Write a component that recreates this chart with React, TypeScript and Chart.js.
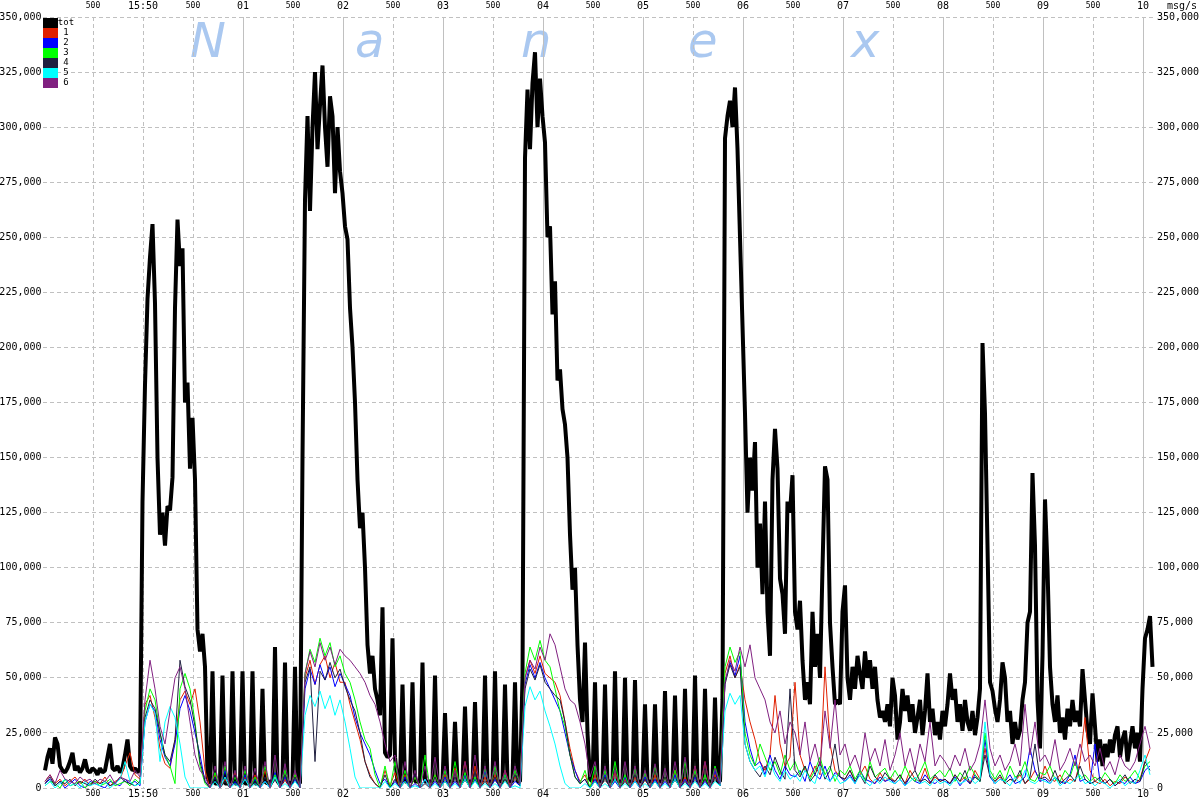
import React, { useEffect, useRef } from "react";
import { Chart, registerables } from "chart.js";

Chart.register(...registerables);

// ---------------- data ----------------
const X_LABELS = ["500", "15:50", "500", "01", "500", "02", "500", "03", "500", "04", "500",
  "05", "500", "06", "500", "07", "500", "08", "500", "09", "500", "10"];
const X_MIN = 0;
const X_MAX = 22.24;
const TIME_START = 0.04;
const TOT_STEP = 0.05;
const SUB_STEP = 0.1;
const Y_MAX = 350000;
const Y_STEP = 25000;
const UNIT = 1000; // values below are in thousands of msg/s
const SERIES_NAMES = ["tot", "1", "2", "3", "4", "5", "6"];
const SERIES_COLORS = ["#000000", "#e02000", "#0000ff", "#00ff00", "#202040", "#00ffff", "#802080"];
const WATERMARK = ["N", "a", "n", "e", "x"];

const TOT_K = [
  8, 14, 18, 11, 23, 20, 10, 8, 7, 9,
  12, 16, 8, 10, 7, 9, 13, 8, 7, 9,
  8, 6, 9, 7, 8, 14, 20, 9, 8, 10,
  7, 9, 15, 22, 10, 8, 9, 7, 9, 130,
  183, 222, 241, 256, 220, 150, 115, 125, 110, 128,
  126, 141, 218, 258, 237, 245, 175, 184, 145, 168,
  140, 72, 62, 70, 55, 5, 2, 53, 2, 2,
  3, 51, 2, 2, 3, 53, 2, 2, 3, 53,
  2, 2, 3, 53, 2, 2, 3, 45, 3, 2,
  3, 3, 64, 3, 2, 3, 57, 3, 2, 3,
  55, 3, 2, 150, 267, 305, 262, 300, 325, 290,
  310, 328, 300, 282, 314, 305, 270, 300, 280, 270,
  255, 249, 218, 200, 175, 140, 118, 125, 100, 65,
  52, 60, 45, 40, 33, 82, 16, 14, 15, 68,
  14, 3, 3, 47, 3, 3, 3, 48, 3, 3,
  3, 57, 3, 3, 3, 3, 51, 3, 3, 3,
  34, 3, 3, 3, 30, 3, 3, 3, 37, 3,
  3, 3, 39, 3, 3, 3, 51, 3, 3, 3,
  53, 3, 3, 3, 47, 3, 3, 3, 48, 3,
  3, 50, 286, 317, 290, 320, 334, 300, 322, 305,
  293, 250, 255, 215, 230, 185, 190, 172, 165, 150,
  115, 90, 100, 65, 40, 30, 66, 25, 4, 3,
  48, 3, 3, 3, 47, 3, 3, 3, 53, 3,
  3, 3, 50, 3, 3, 3, 49, 3, 3, 3,
  38, 3, 3, 3, 38, 3, 3, 3, 44, 3,
  3, 3, 42, 3, 3, 3, 45, 3, 3, 3,
  51, 3, 3, 3, 45, 3, 3, 3, 41, 3,
  3, 40, 295, 305, 312, 300, 318, 290, 250, 210,
  170, 125, 150, 135, 157, 100, 120, 88, 130, 80,
  60, 140, 163, 145, 95, 88, 70, 130, 125, 142,
  80, 72, 85, 58, 40, 48, 38, 80, 55, 70,
  50, 100, 146, 140, 75, 55, 38, 40, 38, 80,
  92, 50, 40, 55, 45, 60, 52, 45, 62, 50,
  58, 45, 55, 40, 32, 35, 30, 38, 28, 50,
  42, 22, 30, 45, 35, 42, 30, 38, 25, 32,
  40, 24, 35, 52, 30, 36, 24, 30, 22, 35,
  28, 38, 52, 40, 45, 30, 38, 26, 40, 30,
  26, 35, 24, 32, 45, 202, 170, 110, 48, 44,
  36, 30, 40, 57, 50, 30, 35, 20, 30, 22,
  26, 40, 48, 75, 80, 143, 110, 40, 18, 60,
  131, 100, 55, 38, 30, 42, 25, 32, 22, 36,
  28, 40, 30, 35, 28, 54, 40, 26, 20, 43,
  28, 12, 22, 10, 20, 14, 22, 16, 24, 28,
  14, 22, 26, 12, 20, 28, 18, 25, 12, 45,
  68, 72, 78, 55,
];

const S1_K = [
  3, 6, 2, 4, 1, 3, 5, 2, 4, 1,
  3, 2, 5, 1, 3, 4, 10, 16, 6, 4,
  38, 42, 32, 18, 11, 9, 22, 40, 44, 38,
  45, 30, 8, 0, 6, 0, 4, 0, 7, 0,
  5, 0, 6, 0, 8, 0, 5, 0, 4, 0,
  6, 1, 50, 58, 47, 56, 60, 50, 57, 48,
  48, 38, 30, 22, 12, 6, 2, 0, 8, 1,
  7, 0, 6, 0, 5, 0, 4, 0, 6, 0,
  6, 0, 9, 0, 12, 0, 10, 0, 5, 0,
  6, 0, 8, 1, 5, 2, 50, 58, 52, 60,
  52, 50, 48, 42, 30, 18, 8, 3, 6, 0,
  6, 0, 5, 0, 7, 0, 4, 0, 5, 0,
  4, 0, 6, 0, 5, 0, 8, 0, 5, 0,
  10, 0, 12, 0, 6, 1, 52, 60, 50, 56,
  40, 30, 22, 12, 8, 15, 42, 20, 10, 14,
  48, 15, 8, 5, 10, 6, 55, 20, 8, 5,
  4, 8, 3, 6, 10, 4, 2, 7, 3, 5,
  3, 6, 2, 8, 4, 3, 9, 2, 5, 3,
  4, 2, 6, 3, 5, 2, 8, 4, 18, 6,
  3, 5, 2, 4, 3, 6, 2, 4, 8, 3,
  10, 4, 3, 6, 2, 4, 3, 12, 32, 8,
  3, 2, 4, 1, 3, 2, 5, 3, 2, 4,
  12, 18,
];

const S2_K = [
  2, 4, 1, 3, 0, 2, 4, 1, 0, 3,
  2, 1, 0, 3, 2, 1, 4, 2, 3, 1,
  30, 38, 35, 22, 14, 10, 20, 36, 42, 35,
  25, 15, 3, 0, 5, 0, 8, 0, 3, 0,
  6, 0, 4, 0, 3, 0, 7, 0, 5, 0,
  4, 0, 45, 54, 47, 56, 49, 55, 46, 52,
  47, 42, 32, 25, 20, 15, 8, 2, 4, 0,
  3, 0, 5, 0, 2, 0, 4, 0, 3, 0,
  5, 0, 3, 0, 6, 0, 4, 0, 8, 0,
  4, 0, 6, 0, 3, 1, 47, 56, 50, 57,
  50, 45, 40, 35, 25, 15, 8, 2, 4, 0,
  4, 0, 6, 0, 3, 0, 5, 0, 3, 0,
  5, 0, 4, 0, 3, 0, 6, 0, 4, 0,
  5, 0, 3, 0, 8, 1, 48, 57, 51, 60,
  30, 18, 10, 12, 6, 15, 8, 4, 10, 6,
  5, 8, 3, 12, 6, 4, 10, 3, 7, 5,
  3, 6, 2, 8, 4, 3, 2, 5, 3, 4,
  2, 4, 1, 5, 3, 2, 6, 3, 2, 4,
  3, 2, 5, 1, 4, 2, 6, 3, 22, 5,
  2, 4, 3, 6, 2, 3, 5, 18, 8, 3,
  4, 2, 5, 3, 2, 6, 15, 3, 4, 2,
  20, 3, 2, 4, 1, 3, 2, 5, 2, 3,
  8, 10,
];

const S3_K = [
  1, 3, 2, 0, 4, 1, 2, 3, 0, 2,
  3, 1, 2, 4, 1, 2, 3, 1, 4, 2,
  35, 45, 40, 25, 15, 10, 2, 45, 52, 45,
  30, 10, 2, 0, 7, 0, 10, 0, 5, 0,
  8, 0, 5, 0, 10, 0, 6, 0, 8, 0,
  6, 0, 52, 63, 57, 68, 60, 66, 55, 60,
  52, 48, 40, 30, 22, 18, 6, 0, 10, 0,
  12, 0, 8, 0, 5, 0, 15, 0, 6, 0,
  8, 0, 12, 0, 7, 0, 5, 0, 9, 0,
  10, 0, 6, 0, 8, 2, 52, 64, 58, 67,
  58, 55, 45, 35, 28, 15, 5, 2, 8, 0,
  10, 0, 8, 0, 12, 0, 6, 0, 9, 0,
  7, 0, 10, 0, 5, 0, 8, 0, 12, 0,
  8, 0, 6, 0, 10, 2, 55, 64, 57, 62,
  25, 15, 10, 20, 14, 8, 12, 6, 15, 8,
  12, 6, 10, 4, 8, 14, 6, 10, 3, 8,
  6, 10, 4, 8, 3, 12, 5, 7, 9, 4,
  8, 4, 10, 5, 3, 7, 12, 4, 6, 8,
  5, 9, 3, 7, 4, 10, 6, 3, 25, 8,
  4, 8, 3, 10, 5, 6, 12, 4, 3, 7,
  6, 10, 4, 3, 8, 5, 12, 4, 6, 3,
  5, 3, 7, 4, 2, 6, 3, 5, 8, 4,
  10, 12,
];

const S4_K = [
  2, 5, 1, 3, 2, 4, 1, 3, 2, 1,
  4, 2, 3, 1, 2, 5, 3, 2, 1, 3,
  32, 40, 36, 25, 15, 12, 22, 58, 46, 40,
  28, 12, 3, 0, 5, 0, 3, 0, 6, 0,
  4, 0, 3, 0, 5, 0, 4, 0, 6, 0,
  5, 0, 48, 55, 12, 53, 49, 57, 50, 54,
  46, 40, 35, 25, 12, 5, 2, 0, 6, 0,
  4, 0, 3, 0, 6, 0, 2, 0, 5, 0,
  3, 0, 5, 0, 4, 0, 7, 0, 3, 0,
  5, 0, 4, 0, 6, 1, 45, 54, 49, 56,
  48, 45, 42, 40, 30, 15, 5, 2, 4, 0,
  3, 0, 5, 0, 4, 0, 3, 0, 6, 0,
  4, 0, 3, 0, 5, 0, 4, 0, 3, 0,
  6, 0, 4, 0, 5, 1, 47, 56, 50, 55,
  20, 12, 8, 5, 10, 6, 14, 8, 4, 45,
  8, 5, 10, 3, 6, 12, 4, 8, 20, 5,
  4, 8, 3, 6, 2, 10, 5, 3, 7, 4,
  3, 6, 2, 5, 8, 3, 4, 2, 6, 3,
  4, 2, 6, 3, 8, 2, 5, 3, 15, 5,
  3, 6, 2, 4, 3, 8, 2, 5, 20, 4,
  5, 3, 8, 2, 4, 6, 3, 10, 4, 2,
  3, 5, 2, 4, 1, 3, 6, 2, 4, 3,
  12, 8,
];

const S5_K = [
  1, 3, 0, 2, 4, 1, 2, 0, 3, 1,
  2, 1, 3, 0, 2, 4, 12, 3, 1, 2,
  30, 38, 34, 12, 30, 37, 32, 20, 5, 0,
  0, 0, 0, 0, 3, 0, 5, 0, 2, 0,
  4, 0, 2, 0, 3, 0, 5, 0, 2, 0,
  3, 0, 33, 42, 37, 44, 36, 42, 33, 40,
  30, 18, 5, 0, 0, 0, 0, 0, 3, 0,
  2, 0, 3, 0, 1, 0, 4, 0, 2, 0,
  3, 0, 2, 0, 4, 0, 3, 0, 2, 0,
  2, 0, 3, 0, 1, 0, 37, 46, 40, 44,
  35, 28, 20, 10, 2, 0, 0, 0, 2, 0,
  3, 0, 2, 0, 4, 0, 2, 0, 3, 0,
  2, 0, 3, 0, 2, 0, 4, 0, 2, 0,
  3, 0, 2, 0, 3, 1, 35, 43, 38, 42,
  20, 12, 8, 10, 5, 12, 6, 3, 8, 4,
  6, 3, 8, 4, 2, 10, 5, 3, 6, 2,
  3, 5, 2, 6, 3, 1, 4, 2, 5, 3,
  2, 4, 1, 3, 5, 2, 3, 1, 4, 2,
  3, 1, 4, 2, 3, 5, 2, 4, 30, 6,
  2, 4, 3, 1, 5, 2, 8, 3, 2, 4,
  3, 2, 5, 1, 3, 2, 4, 6, 2, 3,
  1, 3, 2, 0, 2, 4, 1, 3, 2, 8,
  15, 6,
];

const S6_K = [
  3, 6, 2, 8, 4, 3, 2, 5, 3, 4,
  2, 4, 3, 6, 2, 5, 4, 3, 8, 5,
  40, 58, 45, 28, 20, 35, 50, 55, 45, 30,
  15, 8, 5, 0, 10, 0, 12, 0, 8, 0,
  10, 0, 9, 0, 12, 0, 15, 0, 11, 0,
  8, 0, 52, 62, 55, 66, 58, 64, 56, 63,
  60, 58, 55, 52, 48, 42, 38, 30, 20, 12,
  15, 0, 12, 0, 8, 0, 10, 0, 14, 0,
  10, 0, 8, 0, 12, 0, 15, 0, 10, 0,
  12, 0, 8, 0, 10, 2, 50, 58, 54, 64,
  58, 70, 65, 55, 45, 40, 38, 30, 20, 5,
  12, 0, 10, 0, 8, 0, 12, 0, 10, 0,
  8, 0, 11, 0, 9, 0, 12, 0, 14, 0,
  10, 0, 12, 0, 9, 2, 48, 58, 53, 64,
  55, 65, 50, 45, 40, 30, 25, 35, 20, 30,
  25, 15, 30, 12, 20, 10, 35, 18, 40, 15,
  20, 10, 15, 8, 25, 12, 18, 10, 22, 8,
  15, 25, 10, 18, 8, 20, 12, 30, 10, 15,
  12, 8, 15, 10, 18, 8, 12, 20, 40, 18,
  10, 15, 8, 12, 20, 10, 38, 15, 30, 12,
  15, 10, 22, 8, 12, 18, 10, 20, 12, 15,
  10, 18, 8, 12, 6, 15, 10, 8, 12, 20,
  28, 18,
];

const SUB_SERIES = [S1_K, S2_K, S3_K, S4_K, S5_K, S6_K];

// ---------------- helpers ----------------
const MONO = "'DejaVu Sans Mono', monospace";
const GRID = "#c0c0c0";
const isHour = (i: number) => /^\d\d$/.test(X_LABELS[i] || "");
const toPoints = (arr: number[], step: number) =>
  arr.map((v, i) => ({ x: TIME_START + i * step, y: v * UNIT }));

const overlayPlugin = {
  id: "overlay",
  beforeDraw(chart: any) {
    const { ctx } = chart;
    ctx.save();
    ctx.fillStyle = "#aac8f0";
    ctx.font = "italic 200 48px 'DejaVu Sans', sans-serif";
    ctx.textBaseline = "alphabetic";
    const xs = [190, 355, 521, 688, 851];
    WATERMARK.forEach((ch, i) => ctx.fillText(ch, xs[i], 57));
    ctx.restore();
  },
  afterDraw(chart: any) {
    const { ctx, chartArea } = chart;
    ctx.save();
    SERIES_NAMES.forEach((name, i) => {
      const y = chartArea.top + 1 + i * 10;
      ctx.fillStyle = SERIES_COLORS[i];
      ctx.fillRect(chartArea.left, y, 15, 10);
      ctx.fillStyle = "#000";
      ctx.font = `9px ${MONO}`;
      ctx.textAlign = "center";
      ctx.textBaseline = "middle";
      ctx.fillText(name, chartArea.left + 23, y + 5);
    });
    ctx.font = `10px ${MONO}`;
    ctx.textAlign = "left";
    ctx.textBaseline = "middle";
    ctx.fillStyle = "#000";
    ctx.fillText("msg/s", chartArea.right + 12, 6.5);
    ctx.restore();
  },
};

function xAxis(position: "top" | "bottom") {
  const top = position === "top";
  return {
    type: "linear",
    position,
    min: X_MIN,
    max: X_MAX,
    afterBuildTicks: (s: any) => {
      s.ticks = X_LABELS.map((_, i) => ({ value: i + 1 }));
    },
    afterFit: (s: any) => {
      s.height = top ? 17 : 12;
    },
    border: { display: false, dash: top ? [4, 3] : [] },
    grid: {
      drawTicks: false,
      lineWidth: 1,
      color: (c: any) => {
        const i = c.index ?? -1;
        if (i < 0) return "rgba(0,0,0,0)";
        const hour = isHour(i);
        return (top ? !hour : hour) ? GRID : "rgba(0,0,0,0)";
      },
    },
    ticks: {
      autoSkip: false,
      maxRotation: 0,
      minRotation: 0,
      padding: top ? 4.5 : 0,
      color: "#000",
      font: (c: any) =>
        X_LABELS[c.index] === "500"
          ? { family: MONO, size: 8, lineHeight: 1.6 }
          : { family: MONO, size: 10, lineHeight: 1.2 },
      callback: (_v: any, i: number) => X_LABELS[i],
    },
  };
}

function yAxis(position: "left" | "right") {
  const left = position === "left";
  return {
    type: "linear",
    position,
    min: 0,
    max: Y_MAX,
    afterFit: (s: any) => {
      s.width = left ? 43 : 45;
    },
    border: { display: false, dash: [4, 3] },
    grid: { drawTicks: false, drawOnChartArea: left, color: GRID, lineWidth: 1 },
    ticks: {
      stepSize: Y_STEP,
      autoSkip: false,
      padding: left ? 1.5 : 2,
      color: "#000",
      font: { family: MONO, size: 10 },
      callback: (v: any) => Number(v).toLocaleString("en-US"),
    },
  };
}

export default function App() {
  const ref = useRef<HTMLCanvasElement>(null);

  useEffect(() => {
    const canvas = ref.current;
    if (!canvas) return;
    const datasets: any[] = [
      {
        label: SERIES_NAMES[0],
        data: toPoints(TOT_K, TOT_STEP),
        borderColor: SERIES_COLORS[0],
        borderWidth: 4,
        borderJoinStyle: "bevel",
        pointRadius: 0,
        tension: 0,
        fill: false,
        order: 10,
        xAxisID: "x",
        yAxisID: "y",
      },
      ...SUB_SERIES.map((arr, k) => ({
        label: SERIES_NAMES[k + 1],
        data: toPoints(arr, SUB_STEP),
        borderColor: SERIES_COLORS[k + 1],
        borderWidth: 1,
        pointRadius: 0,
        tension: 0,
        fill: false,
        order: 6 - k,
        xAxisID: "x",
        yAxisID: "y",
      })),
    ];
    const chart = new Chart(canvas, {
      type: "line",
      data: { datasets },
      options: {
        animation: false,
        responsive: false,
        devicePixelRatio: 1,
        events: [],
        layout: { padding: 0 },
        plugins: { legend: { display: false }, tooltip: { enabled: false } },
        scales: {
          x: xAxis("bottom"),
          x2: xAxis("top"),
          y: yAxis("left"),
          y2: yAxis("right"),
        } as any,
      },
      plugins: [overlayPlugin],
    } as any);
    return () => chart.destroy();
  }, []);

  return (
    <div style={{ position: "fixed", left: 0, top: 0, width: 1200, height: 800, background: "#fff" }}>
      <canvas ref={ref} width={1200} height={800} style={{ display: "block" }} />
    </div>
  );
}
